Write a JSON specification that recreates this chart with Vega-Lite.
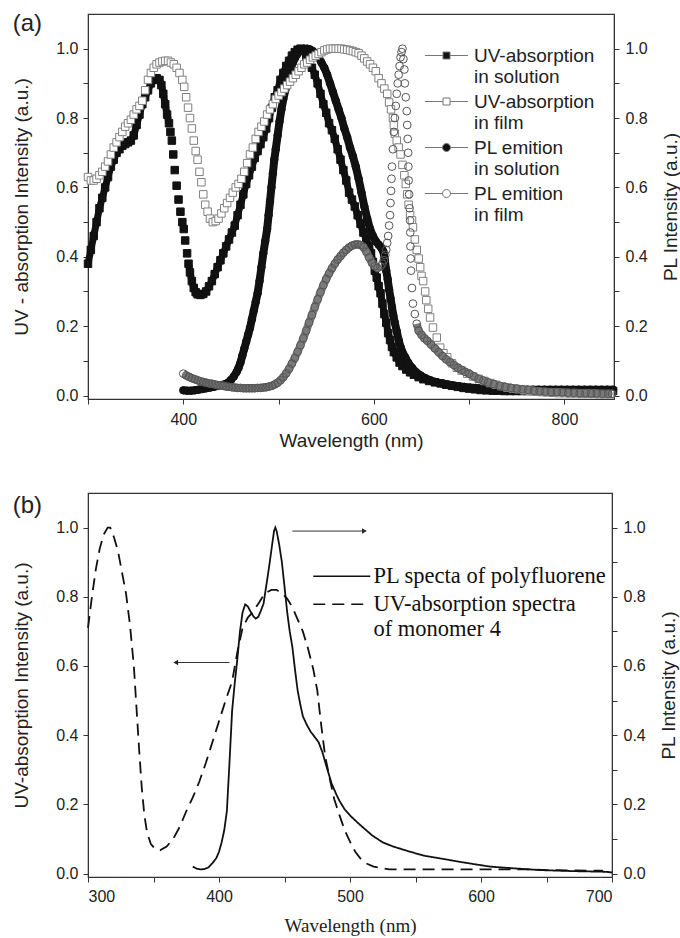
{
"$schema":"https://vega.github.io/schema/vega-lite/v6.json",
"padding":{"left":12,"top":11,"right":0,"bottom":0},
"background":"white",
"config":{
 "view":{"stroke":"#333","strokeWidth":1.2},
 "font":"Liberation Sans",
 "title":{"fontWeight":"normal","color":"#222","font":"Liberation Sans"},
 "axis":{"grid":false,"domainColor":"#333","tickColor":"#333","labelColor":"#222","titleColor":"#222","labelFontSize":16,"titleFontSize":19,"titleFontWeight":"normal","tickSize":5,"labelFont":"Liberation Sans","titleFont":"Liberation Sans","labelPadding":5}
},
"spacing":41,
"resolve":{"scale":{"shape":"independent","strokeDash":"independent","fill":"independent","stroke":"independent"},"legend":{"shape":"independent","strokeDash":"independent","fill":"independent","stroke":"independent"}},
"datasets":{
"a":[
{"s":"a","x":300,"y":0.38},{"s":"a","x":303,"y":0.42},{"s":"a","x":306,"y":0.46},{"s":"a","x":309,"y":0.5},{"s":"a","x":312,"y":0.54},{"s":"a","x":315,"y":0.57},{"s":"a","x":318,"y":0.6},{"s":"a","x":321,"y":0.63},{"s":"a","x":324,"y":0.66},{"s":"a","x":327,"y":0.68},{"s":"a","x":330,"y":0.7},{"s":"a","x":333,"y":0.71},{"s":"a","x":336,"y":0.72},{"s":"a","x":339,"y":0.725},{"s":"a","x":342,"y":0.73},{"s":"a","x":345,"y":0.735},{"s":"a","x":348,"y":0.75},{"s":"a","x":351,"y":0.78},{"s":"a","x":354,"y":0.81},{"s":"a","x":357,"y":0.84},{"s":"a","x":360,"y":0.86},{"s":"a","x":363,"y":0.88},{"s":"a","x":366,"y":0.9},{"s":"a","x":369,"y":0.91},{"s":"a","x":372,"y":0.915},{"s":"a","x":375,"y":0.91},{"s":"a","x":377,"y":0.895},{"s":"a","x":379,"y":0.87},{"s":"a","x":381,"y":0.84},{"s":"a","x":383,"y":0.81},{"s":"a","x":385,"y":0.785},{"s":"a","x":386.5,"y":0.76},{"s":"a","x":388,"y":0.735},{"s":"a","x":389.5,"y":0.695},{"s":"a","x":391,"y":0.65},{"s":"a","x":393,"y":0.605},{"s":"a","x":395,"y":0.565},{"s":"a","x":397,"y":0.53},{"s":"a","x":399,"y":0.5},{"s":"a","x":400.5,"y":0.48},{"s":"a","x":402,"y":0.447},{"s":"a","x":404,"y":0.41},{"s":"a","x":405.5,"y":0.38},{"s":"a","x":407,"y":0.355},{"s":"a","x":409,"y":0.33},{"s":"a","x":411,"y":0.31},{"s":"a","x":413,"y":0.298},{"s":"a","x":415,"y":0.292},{"s":"a","x":418,"y":0.29},{"s":"a","x":421,"y":0.293},{"s":"a","x":424,"y":0.3},{"s":"a","x":427,"y":0.315},{"s":"a","x":430,"y":0.33},{"s":"a","x":433,"y":0.35},{"s":"a","x":436,"y":0.37},{"s":"a","x":439,"y":0.39},{"s":"a","x":442,"y":0.41},{"s":"a","x":445,"y":0.43},{"s":"a","x":448,"y":0.45},{"s":"a","x":451,"y":0.47},{"s":"a","x":454,"y":0.49},{"s":"a","x":457,"y":0.52},{"s":"a","x":460,"y":0.55},{"s":"a","x":463,"y":0.58},{"s":"a","x":466,"y":0.61},{"s":"a","x":469,"y":0.635},{"s":"a","x":472,"y":0.66},{"s":"a","x":475,"y":0.685},{"s":"a","x":478,"y":0.705},{"s":"a","x":481,"y":0.725},{"s":"a","x":484,"y":0.745},{"s":"a","x":487,"y":0.77},{"s":"a","x":490,"y":0.8},{"s":"a","x":493,"y":0.83},{"s":"a","x":496,"y":0.86},{"s":"a","x":499,"y":0.88},{"s":"a","x":502,"y":0.91},{"s":"a","x":505,"y":0.93},{"s":"a","x":508,"y":0.95},{"s":"a","x":511,"y":0.965},{"s":"a","x":514,"y":0.98},{"s":"a","x":517,"y":0.99},{"s":"a","x":520,"y":0.997},{"s":"a","x":523,"y":1.0},{"s":"a","x":526,"y":0.995},{"s":"a","x":529,"y":0.98},{"s":"a","x":532,"y":0.965},{"s":"a","x":535,"y":0.945},{"s":"a","x":538,"y":0.925},{"s":"a","x":541,"y":0.9},{"s":"a","x":544,"y":0.87},{"s":"a","x":547,"y":0.84},{"s":"a","x":550,"y":0.815},{"s":"a","x":553,"y":0.785},{"s":"a","x":556,"y":0.765},{"s":"a","x":559,"y":0.74},{"s":"a","x":562,"y":0.71},{"s":"a","x":565,"y":0.68},{"s":"a","x":568,"y":0.65},{"s":"a","x":571,"y":0.62},{"s":"a","x":574,"y":0.585},{"s":"a","x":577,"y":0.565},{"s":"a","x":580,"y":0.545},{"s":"a","x":583,"y":0.52},{"s":"a","x":586,"y":0.495},{"s":"a","x":589,"y":0.47},{"s":"a","x":592,"y":0.45},{"s":"a","x":595,"y":0.43},{"s":"a","x":597,"y":0.41},{"s":"a","x":599,"y":0.385},{"s":"a","x":601,"y":0.36},{"s":"a","x":603,"y":0.34},{"s":"a","x":605,"y":0.315},{"s":"a","x":607,"y":0.295},{"s":"a","x":609,"y":0.265},{"s":"a","x":611,"y":0.235},{"s":"a","x":613,"y":0.21},{"s":"a","x":615,"y":0.18},{"s":"a","x":617,"y":0.16},{"s":"a","x":619,"y":0.14},{"s":"a","x":621,"y":0.125},{"s":"a","x":624,"y":0.11},{"s":"a","x":627,"y":0.095},{"s":"a","x":630,"y":0.085},{"s":"a","x":634,"y":0.075},{"s":"a","x":638,"y":0.067},{"s":"a","x":642,"y":0.06},{"s":"a","x":647,"y":0.053},{"s":"a","x":652,"y":0.047},{"s":"a","x":658,"y":0.042},{"s":"a","x":664,"y":0.038},{"s":"a","x":670,"y":0.035},{"s":"a","x":676,"y":0.031},{"s":"a","x":682,"y":0.028},{"s":"a","x":688,"y":0.025},{"s":"a","x":694,"y":0.022},{"s":"a","x":700,"y":0.02},{"s":"a","x":706,"y":0.018},{"s":"a","x":712,"y":0.016},{"s":"a","x":718,"y":0.015},{"s":"a","x":725,"y":0.014},{"s":"a","x":731,"y":0.014},{"s":"a","x":737,"y":0.013},{"s":"a","x":743,"y":0.013},{"s":"a","x":749,"y":0.013},{"s":"a","x":755,"y":0.013},{"s":"a","x":761,"y":0.013},{"s":"a","x":767,"y":0.013},{"s":"a","x":773,"y":0.013},{"s":"a","x":779,"y":0.013},{"s":"a","x":785,"y":0.013},{"s":"a","x":791,"y":0.013},{"s":"a","x":797,"y":0.013},{"s":"a","x":803,"y":0.013},{"s":"a","x":809,"y":0.013},{"s":"a","x":815,"y":0.013},{"s":"a","x":821,"y":0.013},{"s":"a","x":827,"y":0.013},{"s":"a","x":833,"y":0.013},{"s":"a","x":839,"y":0.013},{"s":"a","x":845,"y":0.013},{"s":"a","x":851,"y":0.013},
{"s":"c","x":400,"y":0.015},{"s":"c","x":404,"y":0.014},{"s":"c","x":408,"y":0.014},{"s":"c","x":412,"y":0.015},{"s":"c","x":416,"y":0.017},{"s":"c","x":420,"y":0.019},{"s":"c","x":424,"y":0.021},{"s":"c","x":428,"y":0.023},{"s":"c","x":432,"y":0.025},{"s":"c","x":436,"y":0.028},{"s":"c","x":440,"y":0.03},{"s":"c","x":444,"y":0.033},{"s":"c","x":447,"y":0.037},{"s":"c","x":450,"y":0.045},{"s":"c","x":453,"y":0.055},{"s":"c","x":456,"y":0.068},{"s":"c","x":458,"y":0.08},{"s":"c","x":460,"y":0.095},{"s":"c","x":462,"y":0.115},{"s":"c","x":464,"y":0.135},{"s":"c","x":466,"y":0.155},{"s":"c","x":468,"y":0.175},{"s":"c","x":470,"y":0.195},{"s":"c","x":472,"y":0.22},{"s":"c","x":474,"y":0.245},{"s":"c","x":476,"y":0.27},{"s":"c","x":478,"y":0.295},{"s":"c","x":480,"y":0.33},{"s":"c","x":482,"y":0.37},{"s":"c","x":484,"y":0.41},{"s":"c","x":486,"y":0.445},{"s":"c","x":488,"y":0.48},{"s":"c","x":489.5,"y":0.52},{"s":"c","x":491,"y":0.56},{"s":"c","x":492.5,"y":0.6},{"s":"c","x":494,"y":0.64},{"s":"c","x":495.5,"y":0.68},{"s":"c","x":497,"y":0.71},{"s":"c","x":499,"y":0.75},{"s":"c","x":501,"y":0.79},{"s":"c","x":503,"y":0.825},{"s":"c","x":505,"y":0.855},{"s":"c","x":507,"y":0.88},{"s":"c","x":509,"y":0.905},{"s":"c","x":511,"y":0.925},{"s":"c","x":513,"y":0.945},{"s":"c","x":515,"y":0.96},{"s":"c","x":517,"y":0.972},{"s":"c","x":519,"y":0.982},{"s":"c","x":521,"y":0.99},{"s":"c","x":524,"y":0.996},{"s":"c","x":527,"y":1.0},{"s":"c","x":530,"y":1.0},{"s":"c","x":533,"y":0.998},{"s":"c","x":536,"y":0.993},{"s":"c","x":539,"y":0.985},{"s":"c","x":542,"y":0.975},{"s":"c","x":545,"y":0.96},{"s":"c","x":548,"y":0.945},{"s":"c","x":551,"y":0.925},{"s":"c","x":554,"y":0.9},{"s":"c","x":557,"y":0.875},{"s":"c","x":560,"y":0.85},{"s":"c","x":563,"y":0.825},{"s":"c","x":566,"y":0.8},{"s":"c","x":569,"y":0.77},{"s":"c","x":572,"y":0.745},{"s":"c","x":575,"y":0.715},{"s":"c","x":578,"y":0.69},{"s":"c","x":581,"y":0.66},{"s":"c","x":584,"y":0.625},{"s":"c","x":587,"y":0.585},{"s":"c","x":590,"y":0.545},{"s":"c","x":593,"y":0.51},{"s":"c","x":596,"y":0.48},{"s":"c","x":599,"y":0.46},{"s":"c","x":602,"y":0.445},{"s":"c","x":605,"y":0.435},{"s":"c","x":608,"y":0.425},{"s":"c","x":610,"y":0.415},{"s":"c","x":611.5,"y":0.39},{"s":"c","x":613,"y":0.36},{"s":"c","x":614.5,"y":0.335},{"s":"c","x":616,"y":0.305},{"s":"c","x":617.5,"y":0.28},{"s":"c","x":619,"y":0.255},{"s":"c","x":620.5,"y":0.23},{"s":"c","x":622,"y":0.21},{"s":"c","x":624,"y":0.185},{"s":"c","x":626,"y":0.16},{"s":"c","x":628,"y":0.14},{"s":"c","x":630,"y":0.125},{"s":"c","x":633,"y":0.11},{"s":"c","x":636,"y":0.095},{"s":"c","x":640,"y":0.08},{"s":"c","x":644,"y":0.068},{"s":"c","x":649,"y":0.058},{"s":"c","x":654,"y":0.05},{"s":"c","x":659,"y":0.044},{"s":"c","x":665,"y":0.039},{"s":"c","x":671,"y":0.035},{"s":"c","x":677,"y":0.032},{"s":"c","x":683,"y":0.029},{"s":"c","x":689,"y":0.027},{"s":"c","x":695,"y":0.025},{"s":"c","x":701,"y":0.023},{"s":"c","x":707,"y":0.022},{"s":"c","x":713,"y":0.021},{"s":"c","x":719,"y":0.02},{"s":"c","x":725,"y":0.019},{"s":"c","x":731,"y":0.019},{"s":"c","x":737,"y":0.018},{"s":"c","x":743,"y":0.018},{"s":"c","x":749,"y":0.018},{"s":"c","x":755,"y":0.017},{"s":"c","x":761,"y":0.017},{"s":"c","x":767,"y":0.017},{"s":"c","x":773,"y":0.017},{"s":"c","x":779,"y":0.017},{"s":"c","x":785,"y":0.017},{"s":"c","x":791,"y":0.017},{"s":"c","x":797,"y":0.017},{"s":"c","x":803,"y":0.017},{"s":"c","x":809,"y":0.017},{"s":"c","x":815,"y":0.017},{"s":"c","x":821,"y":0.017},{"s":"c","x":827,"y":0.017},{"s":"c","x":833,"y":0.017},{"s":"c","x":839,"y":0.017},{"s":"c","x":845,"y":0.017},{"s":"c","x":851,"y":0.017},
{"s":"b","x":300,"y":0.63},{"s":"b","x":303,"y":0.62},{"s":"b","x":306,"y":0.62},{"s":"b","x":309,"y":0.625},{"s":"b","x":312,"y":0.635},{"s":"b","x":315,"y":0.645},{"s":"b","x":318,"y":0.66},{"s":"b","x":321,"y":0.675},{"s":"b","x":324,"y":0.695},{"s":"b","x":327,"y":0.715},{"s":"b","x":330,"y":0.73},{"s":"b","x":333,"y":0.745},{"s":"b","x":336,"y":0.76},{"s":"b","x":339,"y":0.775},{"s":"b","x":342,"y":0.785},{"s":"b","x":345,"y":0.795},{"s":"b","x":348,"y":0.81},{"s":"b","x":351,"y":0.825},{"s":"b","x":354,"y":0.835},{"s":"b","x":357,"y":0.85},{"s":"b","x":360,"y":0.88},{"s":"b","x":363,"y":0.91},{"s":"b","x":366,"y":0.93},{"s":"b","x":369,"y":0.945},{"s":"b","x":372,"y":0.955},{"s":"b","x":375,"y":0.96},{"s":"b","x":378,"y":0.963},{"s":"b","x":381,"y":0.965},{"s":"b","x":384,"y":0.965},{"s":"b","x":387,"y":0.96},{"s":"b","x":390,"y":0.955},{"s":"b","x":393,"y":0.945},{"s":"b","x":396,"y":0.93},{"s":"b","x":399,"y":0.91},{"s":"b","x":401,"y":0.89},{"s":"b","x":403,"y":0.86},{"s":"b","x":405,"y":0.83},{"s":"b","x":407,"y":0.8},{"s":"b","x":409,"y":0.77},{"s":"b","x":411,"y":0.735},{"s":"b","x":413,"y":0.705},{"s":"b","x":415,"y":0.68},{"s":"b","x":417,"y":0.645},{"s":"b","x":419,"y":0.615},{"s":"b","x":421,"y":0.58},{"s":"b","x":423,"y":0.55},{"s":"b","x":425.5,"y":0.53},{"s":"b","x":428,"y":0.51},{"s":"b","x":431,"y":0.5},{"s":"b","x":434,"y":0.503},{"s":"b","x":437,"y":0.51},{"s":"b","x":440,"y":0.525},{"s":"b","x":443,"y":0.54},{"s":"b","x":446,"y":0.555},{"s":"b","x":449,"y":0.57},{"s":"b","x":452,"y":0.585},{"s":"b","x":455,"y":0.6},{"s":"b","x":458,"y":0.61},{"s":"b","x":461,"y":0.625},{"s":"b","x":464,"y":0.645},{"s":"b","x":467,"y":0.67},{"s":"b","x":470,"y":0.695},{"s":"b","x":473,"y":0.715},{"s":"b","x":476,"y":0.74},{"s":"b","x":479,"y":0.76},{"s":"b","x":482,"y":0.775},{"s":"b","x":485,"y":0.79},{"s":"b","x":488,"y":0.81},{"s":"b","x":491,"y":0.825},{"s":"b","x":494,"y":0.84},{"s":"b","x":497,"y":0.855},{"s":"b","x":500,"y":0.865},{"s":"b","x":503,"y":0.875},{"s":"b","x":506,"y":0.885},{"s":"b","x":509,"y":0.895},{"s":"b","x":512,"y":0.905},{"s":"b","x":515,"y":0.915},{"s":"b","x":518,"y":0.925},{"s":"b","x":521,"y":0.935},{"s":"b","x":524,"y":0.945},{"s":"b","x":527,"y":0.955},{"s":"b","x":530,"y":0.96},{"s":"b","x":533,"y":0.968},{"s":"b","x":536,"y":0.975},{"s":"b","x":539,"y":0.98},{"s":"b","x":542,"y":0.985},{"s":"b","x":545,"y":0.99},{"s":"b","x":548,"y":0.995},{"s":"b","x":551,"y":0.998},{"s":"b","x":554,"y":1.0},{"s":"b","x":557,"y":1.0},{"s":"b","x":560,"y":1.0},{"s":"b","x":563,"y":1.0},{"s":"b","x":566,"y":1.0},{"s":"b","x":569,"y":0.998},{"s":"b","x":572,"y":0.997},{"s":"b","x":575,"y":0.995},{"s":"b","x":578,"y":0.993},{"s":"b","x":581,"y":0.99},{"s":"b","x":584,"y":0.987},{"s":"b","x":587,"y":0.98},{"s":"b","x":590,"y":0.972},{"s":"b","x":593,"y":0.963},{"s":"b","x":596,"y":0.955},{"s":"b","x":599,"y":0.945},{"s":"b","x":602,"y":0.935},{"s":"b","x":605,"y":0.915},{"s":"b","x":608,"y":0.9},{"s":"b","x":611,"y":0.885},{"s":"b","x":614,"y":0.87},{"s":"b","x":616,"y":0.845},{"s":"b","x":618,"y":0.825},{"s":"b","x":620,"y":0.8},{"s":"b","x":621,"y":0.78},{"s":"b","x":622,"y":0.755},{"s":"b","x":624,"y":0.735},{"s":"b","x":626,"y":0.715},{"s":"b","x":628,"y":0.695},{"s":"b","x":630,"y":0.665},{"s":"b","x":632,"y":0.635},{"s":"b","x":633.5,"y":0.61},{"s":"b","x":635,"y":0.58},{"s":"b","x":636.5,"y":0.55},{"s":"b","x":638,"y":0.52},{"s":"b","x":640,"y":0.505},{"s":"b","x":641,"y":0.485},{"s":"b","x":643,"y":0.45},{"s":"b","x":645,"y":0.42},{"s":"b","x":647,"y":0.395},{"s":"b","x":648.6,"y":0.37},{"s":"b","x":650,"y":0.345},{"s":"b","x":651.7,"y":0.33},{"s":"b","x":653.8,"y":0.3},{"s":"b","x":655,"y":0.275},{"s":"b","x":657,"y":0.25},{"s":"b","x":659,"y":0.225},{"s":"b","x":662,"y":0.196},{"s":"b","x":666,"y":0.167},{"s":"b","x":669.6,"y":0.138},{"s":"b","x":673,"y":0.122},{"s":"b","x":677,"y":0.11},{"s":"b","x":682,"y":0.093},{"s":"b","x":687,"y":0.08},{"s":"b","x":692,"y":0.072},{"s":"b","x":698,"y":0.063},{"s":"b","x":704,"y":0.055},{"s":"b","x":710,"y":0.048},{"s":"b","x":716,"y":0.042},{"s":"b","x":722,"y":0.036},{"s":"b","x":728,"y":0.031},{"s":"b","x":734,"y":0.027},{"s":"b","x":740,"y":0.023},{"s":"b","x":746,"y":0.02},{"s":"b","x":752,"y":0.018},{"s":"b","x":758,"y":0.015},{"s":"b","x":764,"y":0.013},{"s":"b","x":770,"y":0.011},{"s":"b","x":776,"y":0.01},{"s":"b","x":782,"y":0.009},{"s":"b","x":788,"y":0.008},{"s":"b","x":794,"y":0.007},{"s":"b","x":800,"y":0.007},{"s":"b","x":806,"y":0.006},{"s":"b","x":812,"y":0.006},{"s":"b","x":818,"y":0.005},{"s":"b","x":824,"y":0.005},{"s":"b","x":830,"y":0.005},{"s":"b","x":836,"y":0.004},{"s":"b","x":842,"y":0.004},{"s":"b","x":848,"y":0.004},
{"s":"d","x":400,"y":0.063},{"s":"d","x":403,"y":0.058},{"s":"d","x":406,"y":0.054},{"s":"d","x":409,"y":0.05},{"s":"d","x":412,"y":0.047},{"s":"d","x":415,"y":0.044},{"s":"d","x":418,"y":0.041},{"s":"d","x":421,"y":0.039},{"s":"d","x":424,"y":0.037},{"s":"d","x":427,"y":0.035},{"s":"d","x":430,"y":0.034},{"s":"d","x":433,"y":0.032},{"s":"d","x":436,"y":0.03},{"s":"d","x":439,"y":0.029},{"s":"d","x":442,"y":0.028},{"s":"d","x":445,"y":0.026},{"s":"d","x":448,"y":0.025},{"s":"d","x":451,"y":0.024},{"s":"d","x":454,"y":0.023},{"s":"d","x":457,"y":0.022},{"s":"d","x":460,"y":0.022},{"s":"d","x":463,"y":0.021},{"s":"d","x":466,"y":0.021},{"s":"d","x":469,"y":0.021},{"s":"d","x":472,"y":0.021},{"s":"d","x":475,"y":0.021},{"s":"d","x":478,"y":0.022},{"s":"d","x":481,"y":0.022},{"s":"d","x":484,"y":0.023},{"s":"d","x":487,"y":0.024},{"s":"d","x":490,"y":0.026},{"s":"d","x":493,"y":0.028},{"s":"d","x":496,"y":0.032},{"s":"d","x":499,"y":0.037},{"s":"d","x":502,"y":0.044},{"s":"d","x":505,"y":0.053},{"s":"d","x":508,"y":0.064},{"s":"d","x":511,"y":0.077},{"s":"d","x":514,"y":0.092},{"s":"d","x":517,"y":0.108},{"s":"d","x":520,"y":0.126},{"s":"d","x":523,"y":0.145},{"s":"d","x":526,"y":0.165},{"s":"d","x":529,"y":0.187},{"s":"d","x":532,"y":0.21},{"s":"d","x":535,"y":0.232},{"s":"d","x":538,"y":0.255},{"s":"d","x":541,"y":0.277},{"s":"d","x":544,"y":0.298},{"s":"d","x":547,"y":0.318},{"s":"d","x":550,"y":0.336},{"s":"d","x":553,"y":0.352},{"s":"d","x":556,"y":0.367},{"s":"d","x":559,"y":0.38},{"s":"d","x":562,"y":0.392},{"s":"d","x":565,"y":0.402},{"s":"d","x":568,"y":0.412},{"s":"d","x":571,"y":0.42},{"s":"d","x":574,"y":0.427},{"s":"d","x":577,"y":0.432},{"s":"d","x":580,"y":0.435},{"s":"d","x":583,"y":0.436},{"s":"d","x":586,"y":0.434},{"s":"d","x":589,"y":0.428},{"s":"d","x":592,"y":0.415},{"s":"d","x":595,"y":0.398},{"s":"d","x":598,"y":0.383},{"s":"d","x":601,"y":0.373},{"s":"d","x":604,"y":0.368},{"s":"d","x":607,"y":0.372},{"s":"d","x":609,"y":0.38},{"s":"d","x":610.5,"y":0.39},{"s":"d","x":612,"y":0.405},{"s":"d","x":613,"y":0.42},{"s":"d","x":614,"y":0.44},{"s":"d","x":615,"y":0.46},{"s":"d","x":616,"y":0.49},{"s":"d","x":617,"y":0.52},{"s":"d","x":617.5,"y":0.555},{"s":"d","x":618,"y":0.59},{"s":"d","x":618.5,"y":0.625},{"s":"d","x":619,"y":0.66},{"s":"d","x":620,"y":0.71},{"s":"d","x":621,"y":0.76},{"s":"d","x":622,"y":0.8},{"s":"d","x":623,"y":0.835},{"s":"d","x":624,"y":0.87},{"s":"d","x":625,"y":0.9},{"s":"d","x":626,"y":0.925},{"s":"d","x":627,"y":0.95},{"s":"d","x":628,"y":0.975},{"s":"d","x":629,"y":0.99},{"s":"d","x":630,"y":1.0},{"s":"d","x":631,"y":0.97},{"s":"d","x":632,"y":0.94},{"s":"d","x":632.5,"y":0.9},{"s":"d","x":633.5,"y":0.86},{"s":"d","x":634.5,"y":0.82},{"s":"d","x":635,"y":0.78},{"s":"d","x":635.5,"y":0.74},{"s":"d","x":636,"y":0.7},{"s":"d","x":636.2,"y":0.66},{"s":"d","x":636.5,"y":0.62},{"s":"d","x":637,"y":0.58},{"s":"d","x":637.5,"y":0.54},{"s":"d","x":638,"y":0.505},{"s":"d","x":638.2,"y":0.47},{"s":"d","x":638.4,"y":0.43},{"s":"d","x":638.6,"y":0.395},{"s":"d","x":639,"y":0.36},{"s":"d","x":640,"y":0.31},{"s":"d","x":641,"y":0.265},{"s":"d","x":643,"y":0.235},{"s":"d","x":645,"y":0.207},{"s":"d","x":647,"y":0.187},{"s":"d","x":650,"y":0.175},{"s":"d","x":653,"y":0.165},{"s":"d","x":656,"y":0.158},{"s":"d","x":660,"y":0.147},{"s":"d","x":664,"y":0.136},{"s":"d","x":668,"y":0.125},{"s":"d","x":672,"y":0.114},{"s":"d","x":676,"y":0.104},{"s":"d","x":680,"y":0.096},{"s":"d","x":684,"y":0.088},{"s":"d","x":688,"y":0.08},{"s":"d","x":692,"y":0.074},{"s":"d","x":696,"y":0.068},{"s":"d","x":700,"y":0.063},{"s":"d","x":705,"y":0.055},{"s":"d","x":710,"y":0.048},{"s":"d","x":715,"y":0.043},{"s":"d","x":720,"y":0.038},{"s":"d","x":726,"y":0.033},{"s":"d","x":732,"y":0.028},{"s":"d","x":738,"y":0.025},{"s":"d","x":744,"y":0.022},{"s":"d","x":750,"y":0.02},{"s":"d","x":756,"y":0.018},{"s":"d","x":762,"y":0.016},{"s":"d","x":768,"y":0.014},{"s":"d","x":774,"y":0.012},{"s":"d","x":780,"y":0.011},{"s":"d","x":786,"y":0.01},{"s":"d","x":792,"y":0.01},{"s":"d","x":798,"y":0.009},{"s":"d","x":804,"y":0.008},{"s":"d","x":810,"y":0.008},{"s":"d","x":816,"y":0.007},{"s":"d","x":822,"y":0.007},{"s":"d","x":828,"y":0.006},{"s":"d","x":834,"y":0.006},{"s":"d","x":840,"y":0.005},{"s":"d","x":846,"y":0.005},{"s":"d","x":850,"y":0.005}
],
"b":[
{"s":"p","x":380,"y":0.02},{"s":"p","x":383,"y":0.014},{"s":"p","x":386,"y":0.012},{"s":"p","x":389,"y":0.013},{"s":"p","x":392,"y":0.018},{"s":"p","x":395,"y":0.03},{"s":"p","x":398,"y":0.045},{"s":"p","x":400,"y":0.063},{"s":"p","x":402,"y":0.09},{"s":"p","x":404,"y":0.125},{"s":"p","x":406,"y":0.18},{"s":"p","x":408,"y":0.32},{"s":"p","x":410,"y":0.47},{"s":"p","x":412,"y":0.55},{"s":"p","x":414,"y":0.62},{"s":"p","x":416,"y":0.7},{"s":"p","x":418,"y":0.755},{"s":"p","x":420,"y":0.778},{"s":"p","x":422,"y":0.772},{"s":"p","x":424,"y":0.758},{"s":"p","x":426,"y":0.745},{"s":"p","x":428,"y":0.737},{"s":"p","x":430,"y":0.742},{"s":"p","x":432,"y":0.76},{"s":"p","x":434,"y":0.78},{"s":"p","x":436,"y":0.83},{"s":"p","x":438,"y":0.88},{"s":"p","x":440,"y":0.935},{"s":"p","x":442,"y":0.99},{"s":"p","x":443,"y":1.0},{"s":"p","x":444,"y":0.99},{"s":"p","x":446,"y":0.95},{"s":"p","x":448,"y":0.9},{"s":"p","x":450,"y":0.83},{"s":"p","x":452,"y":0.757},{"s":"p","x":454,"y":0.7},{"s":"p","x":456,"y":0.655},{"s":"p","x":458,"y":0.59},{"s":"p","x":460,"y":0.53},{"s":"p","x":462,"y":0.49},{"s":"p","x":464,"y":0.455},{"s":"p","x":467,"y":0.43},{"s":"p","x":470,"y":0.41},{"s":"p","x":473,"y":0.395},{"s":"p","x":476,"y":0.38},{"s":"p","x":479,"y":0.35},{"s":"p","x":482,"y":0.31},{"s":"p","x":486,"y":0.26},{"s":"p","x":490,"y":0.225},{"s":"p","x":492,"y":0.21},{"s":"p","x":496,"y":0.185},{"s":"p","x":500,"y":0.168},{"s":"p","x":505,"y":0.15},{"s":"p","x":510,"y":0.133},{"s":"p","x":517,"y":0.11},{"s":"p","x":525,"y":0.09},{"s":"p","x":533,"y":0.078},{"s":"p","x":545,"y":0.064},{"s":"p","x":556,"y":0.052},{"s":"p","x":570,"y":0.043},{"s":"p","x":582,"y":0.035},{"s":"p","x":595,"y":0.027},{"s":"p","x":607,"y":0.02},{"s":"p","x":625,"y":0.015},{"s":"p","x":645,"y":0.01},{"s":"p","x":670,"y":0.007},{"s":"p","x":696,"y":0.005},{"s":"p","x":700,"y":0.003},
{"s":"u","x":300,"y":0.71},{"s":"u","x":303,"y":0.8},{"s":"u","x":306,"y":0.88},{"s":"u","x":309,"y":0.94},{"s":"u","x":312,"y":0.98},{"s":"u","x":315,"y":1.0},{"s":"u","x":317,"y":1.0},{"s":"u","x":320,"y":0.97},{"s":"u","x":323,"y":0.93},{"s":"u","x":326,"y":0.87},{"s":"u","x":329,"y":0.81},{"s":"u","x":332,"y":0.72},{"s":"u","x":335,"y":0.6},{"s":"u","x":337,"y":0.48},{"s":"u","x":339,"y":0.36},{"s":"u","x":341,"y":0.25},{"s":"u","x":343,"y":0.17},{"s":"u","x":345,"y":0.12},{"s":"u","x":348,"y":0.085},{"s":"u","x":351,"y":0.072},{"s":"u","x":355,"y":0.067},{"s":"u","x":360,"y":0.078},{"s":"u","x":365,"y":0.1},{"s":"u","x":370,"y":0.135},{"s":"u","x":375,"y":0.18},{"s":"u","x":380,"y":0.22},{"s":"u","x":385,"y":0.266},{"s":"u","x":390,"y":0.32},{"s":"u","x":395,"y":0.38},{"s":"u","x":400,"y":0.44},{"s":"u","x":405,"y":0.5},{"s":"u","x":410,"y":0.555},{"s":"u","x":414,"y":0.64},{"s":"u","x":418,"y":0.71},{"s":"u","x":422,"y":0.74},{"s":"u","x":426,"y":0.757},{"s":"u","x":430,"y":0.78},{"s":"u","x":435,"y":0.81},{"s":"u","x":440,"y":0.82},{"s":"u","x":444,"y":0.82},{"s":"u","x":448,"y":0.81},{"s":"u","x":452,"y":0.795},{"s":"u","x":456,"y":0.77},{"s":"u","x":460,"y":0.735},{"s":"u","x":464,"y":0.7},{"s":"u","x":468,"y":0.65},{"s":"u","x":472,"y":0.59},{"s":"u","x":475,"y":0.53},{"s":"u","x":478,"y":0.43},{"s":"u","x":481,"y":0.34},{"s":"u","x":485,"y":0.266},{"s":"u","x":488,"y":0.215},{"s":"u","x":492,"y":0.168},{"s":"u","x":496,"y":0.125},{"s":"u","x":500,"y":0.092},{"s":"u","x":504,"y":0.063},{"s":"u","x":508,"y":0.043},{"s":"u","x":512,"y":0.03},{"s":"u","x":518,"y":0.02},{"s":"u","x":530,"y":0.012},{"s":"u","x":560,"y":0.012},{"s":"u","x":600,"y":0.012},{"s":"u","x":640,"y":0.012},{"s":"u","x":650,"y":0.01},{"s":"u","x":670,"y":0.009},{"s":"u","x":693,"y":0.008}
]
},
"vconcat":[
{
 "width":526,"height":385,
 "title":{"text":"(a)","anchor":"start","frame":"bounds","fontSize":24,"baseline":"top","offset":-25,"dy":-3},
 "layer":[
  {
   "data":{"name":"a"},
   "encoding":{
    "x":{"field":"x","type":"quantitative","scale":{"domain":[300,852],"nice":false,"zero":false},"axis":{"values":[300,400,500,600,700,800],"labelExpr":"datum.value==400||datum.value==600||datum.value==800 ? datum.label : ''","title":"Wavelength (nm)","labelPadding":7,"titlePadding":4}},
    "y":{"field":"y","type":"quantitative","scale":{"domain":[-0.01,1.1],"nice":false,"zero":false},"axis":{"values":[0,0.1,0.2,0.3,0.4,0.5,0.6,0.7,0.8,0.9,1.0],"labelExpr":"round(datum.value*10)%2==0 ? format(datum.value,'.1f') : ''","title":"UV - absorption Intensity (a.u.)","titlePadding":24}}
   },
   "layer":[
    {"transform":[{"filter":"datum.s=='a' && datum.x<=386"}],"mark":{"type":"line","color":"#111","strokeWidth":7}},
    {"transform":[{"filter":"datum.s=='a' && datum.x>=405"}],"mark":{"type":"line","color":"#111","strokeWidth":7}},
    {"transform":[{"filter":"datum.s=='c'"}],"mark":{"type":"line","color":"#111","strokeWidth":8}},
    {"transform":[{"filter":"datum.s=='a'"}],"mark":{"type":"point","shape":"square","opacity":1,"strokeWidth":1,"size":56,"fill":"#111","stroke":"#111","fillOpacity":1}},
    {"transform":[{"filter":"datum.s=='c'"}],"mark":{"type":"point","shape":"circle","opacity":1,"strokeWidth":1,"size":56,"fill":"#111","stroke":"#111","fillOpacity":1}},
    {"transform":[{"filter":"datum.s=='b'"}],"mark":{"type":"point","shape":"square","opacity":1,"strokeWidth":1,"size":56,"fill":"#fff","stroke":"#808080","fillOpacity":1}},
    {"transform":[{"filter":"datum.s=='d' && datum.x<=607"}],"mark":{"type":"line","color":"#7a7a7a","strokeWidth":8}},
    {"transform":[{"filter":"datum.s=='d' && datum.x>=645"}],"mark":{"type":"line","color":"#7a7a7a","strokeWidth":8}},
    {"transform":[{"filter":"datum.s=='d'"}],"mark":{"type":"point","shape":"circle","opacity":1,"strokeWidth":1,"size":60,"fill":"#fff","fillOpacity":0,"stroke":"#555"}},
    {
     "transform":[{"filter":"false"}],
     "mark":{"type":"point","opacity":1,"strokeWidth":1,"size":64},
     "encoding":{
      "shape":{"field":"s","type":"nominal","scale":{"domain":["a","b","c","d"],"range":["M-5.4,0H-0.875M0.875,0H5.4M-0.875,-0.875H0.875V0.875H-0.875Z","M-5.4,0H-0.875M0.875,0H5.4M-0.875,-0.875H0.875V0.875H-0.875Z","M-5.4,0H-1M1,0H5.4M-1,0A1,1,0,1,1,1,0A1,1,0,1,1,-1,0Z","M-5.4,0H-1M1,0H5.4M-1,0A1,1,0,1,1,1,0A1,1,0,1,1,-1,0Z"]},
        "legend":{"orient":"none","legendX":349,"legendY":32,"title":null,"padding":0,
          "labelExpr":"datum.value=='a' ? ['UV-absorption','in solution'] : datum.value=='b' ? ['UV-absorption','in film'] : datum.value=='c' ? ['PL emition','in solution'] : ['PL emition','in film']",
          "labelFont":"Liberation Sans","labelFontSize":19,"labelColor":"#222","labelBaseline":"middle","labelLimit":400,
          "symbolSize":64,"symbolStrokeWidth":1,"symbolOpacity":1,"labelOffset":18,"rowPadding":5}},
      "fill":{"field":"s","type":"nominal","scale":{"domain":["a","b","c","d"],"range":["#111111","#ffffff","#111111","#ffffff"]},"legend":null},
      "stroke":{"field":"s","type":"nominal","scale":{"domain":["a","b","c","d"],"range":["#777777","#777777","#777777","#777777"]},"legend":null}
     }
    }
   ]
  },
  {
   "data":{"values":[{"y":0}]},
   "mark":{"type":"rule","opacity":0},
   "encoding":{"y":{"field":"y","type":"quantitative","scale":{"domain":[-0.01,1.1],"nice":false,"zero":false},"axis":{"orient":"right","values":[0,0.1,0.2,0.3,0.4,0.5,0.6,0.7,0.8,0.9,1.0],"labelExpr":"round(datum.value*10)%2==0 ? format(datum.value,'.1f') : ''","title":"PL Intensity (a.u.)","titleAngle":270,"titleBaseline":"top","titlePadding":14,"labelPadding":6}}}
  }
 ],
 "resolve":{"scale":{"y":"independent"}}
},
{
 "width":524,"height":384,
 "title":{"text":"(b)","anchor":"start","frame":"bounds","fontSize":24,"baseline":"top","offset":-25,"dy":0},
 "layer":[
  {
   "layer":[
    {
     "data":{"name":"b"},
     "mark":{"type":"line","strokeWidth":1.8,"color":"#111"},
     "encoding":{
      "x":{"field":"x","type":"quantitative","scale":{"domain":[300,700],"nice":false,"zero":false},"axis":{"values":[300,350,400,450,500,550,600,650,700],"labelExpr":"datum.value%100==0 ? datum.label : ''","title":"Wavelength (nm)","titleFont":"Liberation Serif","labelPadding":6,"titlePadding":12}},
      "y":{"field":"y","type":"quantitative","scale":{"domain":[-0.01,1.1],"nice":false,"zero":false},"axis":{"values":[0,0.1,0.2,0.3,0.4,0.5,0.6,0.7,0.8,0.9,1.0],"labelExpr":"round(datum.value*10)%2==0 ? format(datum.value,'.1f') : ''","title":"UV-absorption Intensity (a.u.)","titlePadding":24}},
      "strokeDash":{"field":"s","type":"nominal","scale":{"domain":["p","u"],"range":[[1,0],[12,7]]},
        "legend":{"orient":"none","legendX":265,"legendY":72,"title":null,"padding":0,
          "labelExpr":"datum.value=='p' ? 'PL specta of polyfluorene' : ['UV-absorption spectra','of monomer 4']",
          "labelFont":"Liberation Serif","labelFontSize":22.5,"labelColor":"#111","labelBaseline":"middle","labelLimit":400,
          "symbolType":"M-20.4,0H2.4","symbolSize":25,"symbolStrokeWidth":1.6,"symbolStrokeColor":"#111","labelOffset":-2,"rowPadding":5,
          "encode":{"labels":{"lineHeight":{"value":28}}}}}
     }
    },
    {
     "data":{"values":[{"x":367,"x2":408,"y":0.61},{"x":456,"x2":511,"y":0.99}]},
     "mark":{"type":"rule","color":"#333","strokeWidth":1},
     "encoding":{"x":{"field":"x","type":"quantitative"},"x2":{"field":"x2"},"y":{"field":"y","type":"quantitative"}}
    },
    {
     "data":{"values":[{"x":367,"y":0.61,"d":"l"},{"x":511,"y":0.99,"d":"r"}]},
     "mark":{"type":"point","filled":true,"color":"#222","opacity":1,"size":30},
     "encoding":{"x":{"field":"x","type":"quantitative"},"y":{"field":"y","type":"quantitative"},"shape":{"field":"d","type":"nominal","scale":{"domain":["l","r"],"range":["triangle-left","triangle-right"]},"legend":null}}
    }
   ]
  },
  {
   "data":{"values":[{"y":0}]},
   "mark":{"type":"rule","opacity":0},
   "encoding":{"y":{"field":"y","type":"quantitative","scale":{"domain":[-0.01,1.1],"nice":false,"zero":false},"axis":{"orient":"right","values":[0,0.1,0.2,0.3,0.4,0.5,0.6,0.7,0.8,0.9,1.0],"labelExpr":"round(datum.value*10)%2==0 ? format(datum.value,'.1f') : ''","title":"PL Intensity (a.u.)","titleAngle":270,"titleBaseline":"top","titlePadding":14,"labelPadding":6}}}
  }
 ],
 "resolve":{"scale":{"y":"independent"}}
}
]
}
